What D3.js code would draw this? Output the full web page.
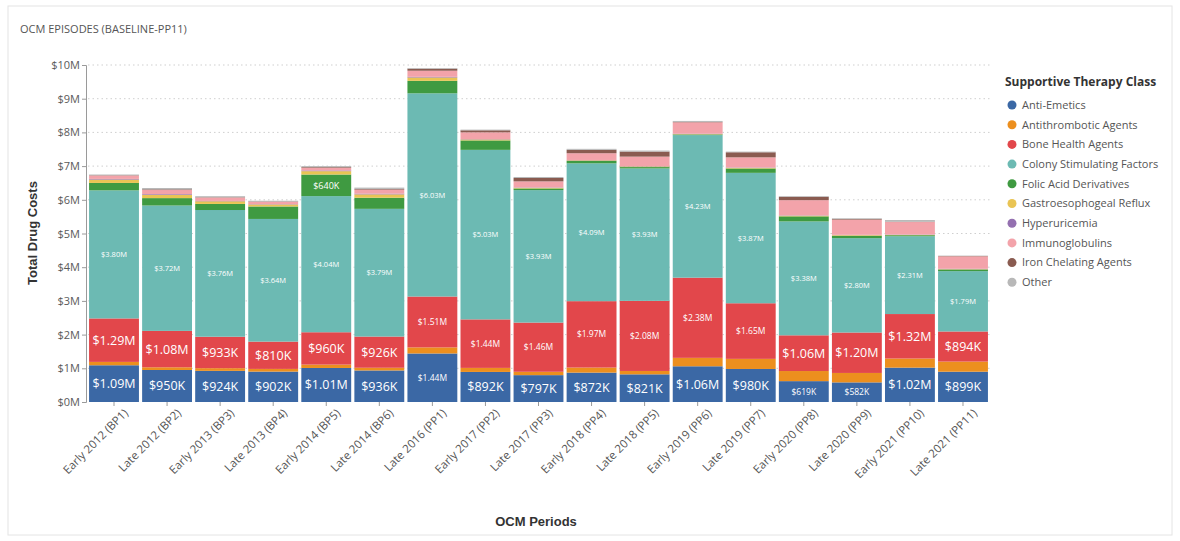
<!DOCTYPE html>
<html>
<head>
<meta charset="utf-8">
<script src="https://cdn.jsdelivr.net/npm/d3@7/dist/d3.min.js"></script>
<style>
  html, body { margin: 0; padding: 0; background: #ffffff; }
  svg { display: block; }
</style>
</head>
<body>
<svg id="chart" width="1180" height="541"></svg>
<script>
// Reporting periods (x axis)
const periods = [
  "Early 2012 (BP1)", "Late 2012 (BP2)", "Early 2013 (BP3)", "Late 2013 (BP4)",
  "Early 2014 (BP5)", "Late 2014 (BP6)", "Late 2016 (PP1)", "Early 2017 (PP2)",
  "Late 2017 (PP3)", "Early 2018 (PP4)", "Late 2018 (PP5)", "Early 2019 (PP6)",
  "Late 2019 (PP7)", "Early 2020 (PP8)", "Late 2020 (PP9)", "Early 2021 (PP10)",
  "Late 2021 (PP11)"
];

// Drug costs per therapy class, in millions of dollars
const antiEmetics     = [1.09, 0.95, 0.924, 0.902, 1.01, 0.936, 1.44, 0.892, 0.797, 0.872, 0.821, 1.06, 0.98, 0.619, 0.582, 1.02, 0.899];
const antithrombotic  = [0.10, 0.08, 0.08, 0.08, 0.10, 0.08, 0.18, 0.12, 0.10, 0.15, 0.10, 0.25, 0.30, 0.30, 0.28, 0.27, 0.30];
const boneHealth      = [1.29, 1.08, 0.933, 0.81, 0.96, 0.926, 1.51, 1.44, 1.46, 1.97, 2.08, 2.38, 1.65, 1.06, 1.20, 1.32, 0.894];
const colonyStim      = [3.80, 3.72, 3.76, 3.64, 4.04, 3.79, 6.03, 5.03, 3.93, 4.09, 3.93, 4.23, 3.87, 3.38, 2.80, 2.31, 1.79];
const folicAcid       = [0.22, 0.22, 0.18, 0.37, 0.64, 0.33, 0.37, 0.28, 0.05, 0.07, 0.04, 0.02, 0.13, 0.15, 0.07, 0.03, 0.05];
const gastroReflux    = [0.10, 0.10, 0.08, 0.06, 0.10, 0.10, 0.10, 0.03, 0.02, 0.02, 0.02, 0.01, 0.02, 0.02, 0.02, 0.01, 0.01];
const hyperuricemia   = [0.02, 0.02, 0.01, 0.01, 0.02, 0.02, 0.02, 0.01, 0.01, 0.01, 0.01, 0.01, 0.01, 0.01, 0.01, 0.01, 0.01];
const immunoglobulins = [0.10, 0.12, 0.10, 0.07, 0.08, 0.12, 0.18, 0.20, 0.18, 0.20, 0.28, 0.34, 0.30, 0.45, 0.45, 0.37, 0.37];
const ironChelating   = [0.01, 0.02, 0.01, 0.01, 0.02, 0.02, 0.06, 0.06, 0.10, 0.10, 0.15, 0.01, 0.15, 0.10, 0.02, 0.01, 0.01];
const otherClass      = [0.02, 0.04, 0.03, 0.02, 0.03, 0.04, 0.02, 0.02, 0.03, 0.03, 0.03, 0.03, 0.02, 0.02, 0.02, 0.05, 0.01];

const seriesNames = [
  "Anti-Emetics", "Antithrombotic Agents", "Bone Health Agents", "Colony Stimulating Factors",
  "Folic Acid Derivatives", "Gastroesophogeal Reflux", "Hyperuricemia", "Immunoglobulins",
  "Iron Chelating Agents", "Other"
];
const seriesValues = [
  antiEmetics, antithrombotic, boneHealth, colonyStim, folicAcid,
  gastroReflux, hyperuricemia, immunoglobulins, ironChelating, otherClass
];
const yTickValues = [0, 1, 2, 3, 4, 5, 6, 7, 8, 9, 10];

// ---- styling ----
const colors = ["#3b68a5", "#ec8f1e", "#e2474b", "#6cbab3", "#3f9a41",
                "#e9c454", "#9470b0", "#f3a3aa", "#8a5b50", "#b8b8b8"];
const labelFont = "'Open Sans', 'Noto Sans', sans-serif";
// segments whose labels are printed in the reduced size
const compactLabels = new Set([
  "Late 2016 (PP1)|Anti-Emetics", "Early 2020 (PP8)|Anti-Emetics", "Late 2020 (PP9)|Anti-Emetics",
  "Late 2016 (PP1)|Bone Health Agents", "Early 2017 (PP2)|Bone Health Agents",
  "Late 2017 (PP3)|Bone Health Agents", "Early 2018 (PP4)|Bone Health Agents",
  "Late 2018 (PP5)|Bone Health Agents", "Early 2019 (PP6)|Bone Health Agents",
  "Late 2019 (PP7)|Bone Health Agents"
]);

const svg = d3.select("#chart");

// card frame
svg.append("rect")
  .attr("x", 8).attr("y", 6).attr("width", 1164).attr("height", 529)
  .attr("fill", "#fff").attr("stroke", "#e4e4e4").attr("stroke-width", 1);

svg.append("text")
  .attr("x", 20).attr("y", 33)
  .attr("font-family", labelFont).attr("font-size", 11).attr("fill", "#555")
  .text("OCM EPISODES (BASELINE-PP11)");

const rows = periods.map((p, i) => {
  const r = { period: p };
  seriesNames.forEach((s, j) => { r[s] = seriesValues[j][i]; });
  return r;
});
const stacked = d3.stack().keys(seriesNames)(rows);

const x = d3.scaleBand().domain(periods).range([88, 989]).paddingInner(0.06).paddingOuter(0.02);
const y = d3.scaleLinear().domain([0, 10]).range([402, 65]);
const color = d3.scaleOrdinal().domain(seriesNames).range(colors);

// gridlines
svg.append("g")
  .selectAll("line")
  .data(yTickValues.filter(v => v > 0))
  .join("line")
  .attr("x1", 88).attr("x2", 992)
  .attr("y1", d => y(d)).attr("y2", d => y(d))
  .attr("stroke", "#cfcfcf").attr("stroke-dasharray", "1.5,3");

// y axis
const yAxis = svg.append("g")
  .attr("transform", "translate(86,0)")
  .call(d3.axisLeft(y).tickValues(yTickValues).tickSize(4).tickPadding(2)
    .tickFormat(d => "$" + d + "M"));
yAxis.select(".domain").attr("stroke", "#9a9a9a");
yAxis.selectAll(".tick line").attr("stroke", "#9a9a9a");
yAxis.selectAll("text").attr("font-family", labelFont).attr("font-size", 11).attr("fill", "#5a5a5a");

svg.append("text")
  .attr("transform", "translate(37,233) rotate(-90)")
  .attr("text-anchor", "middle")
  .attr("font-family", "'Liberation Sans', Arial, sans-serif").attr("font-weight", "bold")
  .attr("font-size", 13).attr("fill", "#333")
  .text("Total Drug Costs");

// bars
const layers = svg.append("g").selectAll("g")
  .data(stacked)
  .join("g")
  .attr("fill", d => color(d.key));
layers.selectAll("rect")
  .data(d => d)
  .join("rect")
  .attr("x", d => x(d.data.period))
  .attr("width", x.bandwidth())
  .attr("y", d => y(d[1]))
  .attr("height", d => Math.max(0, y(d[0]) - y(d[1])));

// x axis
const xAxis = svg.append("g")
  .attr("transform", "translate(0,402)")
  .call(d3.axisBottom(x).tickSize(4).tickPadding(3));
xAxis.select(".domain").remove();
xAxis.selectAll(".tick line").attr("stroke", "#9a9a9a");
xAxis.selectAll("text")
  .attr("font-family", labelFont).attr("font-size", 11.5).attr("fill", "#555")
  .attr("text-anchor", "end")
  .attr("transform", "translate(5,2) rotate(-45)")
  .attr("dx", 0).attr("dy", "0.6em");

svg.append("text")
  .attr("x", 536).attr("y", 526)
  .attr("text-anchor", "middle")
  .attr("font-family", "'Liberation Sans', Arial, sans-serif").attr("font-weight", "bold")
  .attr("font-size", 13).attr("fill", "#333")
  .text("OCM Periods");

// segment value labels
const fmt = v => v < 1 ? "$" + Math.round(v * 1000) + "K" : "$" + v.toFixed(2) + "M";
const labelData = [];
stacked.forEach(layer => {
  layer.forEach(d => {
    const v = d[1] - d[0];
    if (v >= 0.5) labelData.push({ key: layer.key, period: d.data.period, v, mid: (d[0] + d[1]) / 2 });
  });
});
svg.append("g").selectAll("text")
  .data(labelData)
  .join("text")
  .attr("x", d => x(d.period) + x.bandwidth() / 2)
  .attr("y", d => y(d.mid))
  .attr("dy", "0.36em")
  .attr("text-anchor", "middle")
  .attr("font-family", labelFont)
  .attr("font-size", d => {
    if (d.key === "Colony Stimulating Factors") return 7.5;
    if (d.key === "Folic Acid Derivatives") return 9;
    return compactLabels.has(d.period + "|" + d.key) ? 8.5 : 12.5;
  })
  .attr("fill", "#fff")
  .text(d => fmt(d.v));

// legend
const legend = svg.append("g").attr("transform", "translate(1005,0)");
legend.append("text")
  .attr("x", 0).attr("y", 86)
  .attr("font-family", labelFont).attr("font-weight", "bold")
  .attr("font-size", 12).attr("fill", "#333")
  .text("Supportive Therapy Class");
const items = legend.selectAll("g.item")
  .data(seriesNames)
  .join("g")
  .attr("class", "item")
  .attr("transform", (d, i) => `translate(0,${105 + i * 19.7})`);
items.append("circle").attr("cx", 7).attr("cy", 0).attr("r", 4.5).attr("fill", d => color(d));
items.append("text")
  .attr("x", 17).attr("y", 0).attr("dy", "0.35em")
  .attr("font-family", labelFont).attr("font-size", 11).attr("fill", "#555")
  .text(d => d);
</script>
</body>
</html>
